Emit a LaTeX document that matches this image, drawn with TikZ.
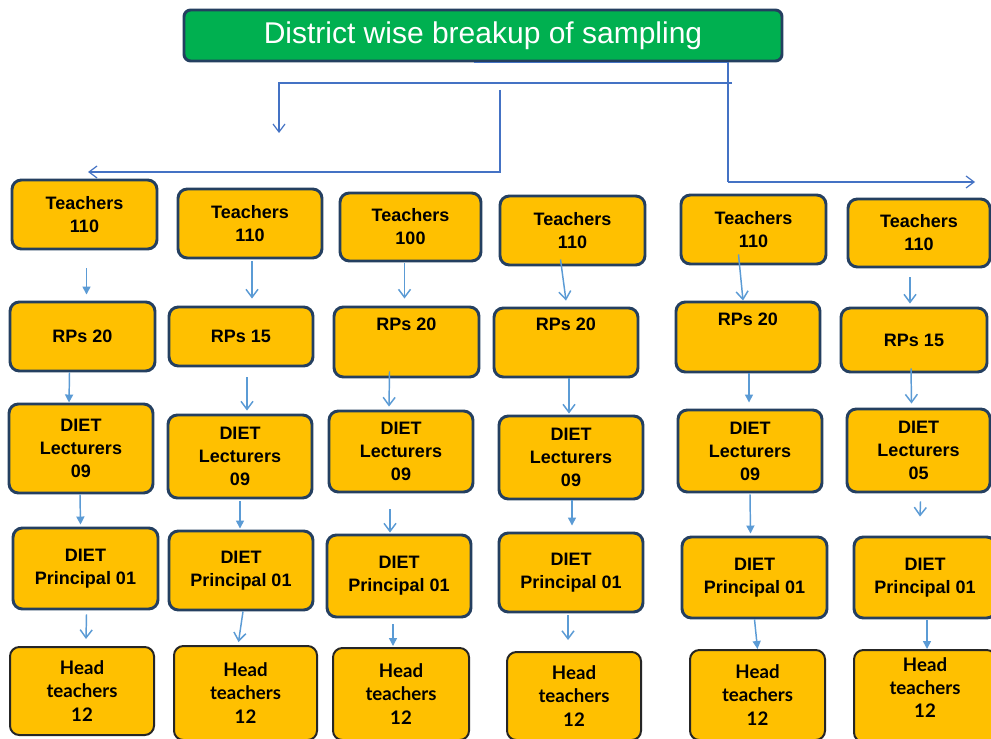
\documentclass[tikz,border=0pt]{standalone}
\usepackage{fontspec}
\setmainfont{Liberation Sans}
\newfontfamily\headfont{Lato}
\usepackage{xcolor}
\usepackage{tikz}
\usetikzlibrary{arrows.meta, calc}
\definecolor{TitleGreen}{HTML}{00B050}
\definecolor{BoxOrange}{HTML}{FFC000}
\definecolor{BoxEdge}{HTML}{243F60}
\definecolor{FeedBlue}{HTML}{4472C4}
\definecolor{ArrBlue}{HTML}{5B9BD5}

\begin{document}
\begin{tikzpicture}[x=0.75pt, y=-0.75pt,
    cell/.style 2 args={minimum width=#1*0.75pt, minimum height=#2*0.75pt},
    box/.style={rounded corners=7pt, fill=BoxOrange, draw=BoxEdge, line width=2.2pt, inner sep=0pt, align=center, font=\bfseries\fontsize{13.5}{17.3}\selectfont},
    headbox/.style={box, draw=black!85, line width=1.5pt, font=\headfont\bfseries\fontsize{14}{17.3}\selectfont},
    titlebox/.style={rounded corners=5pt, fill=TitleGreen, draw=BoxEdge, line width=2.2pt, inner sep=0pt, text=white, font=\fontsize{22.5}{26}\selectfont},
    feed/.style={draw=FeedBlue, line width=0.9pt},
    tipo/.style={draw=ArrBlue, line width=1.1pt, -{Straight Barb[length=6pt,width=9pt]}},
    tipf/.style={draw=ArrBlue, line width=1.1pt, -{Triangle[length=6pt,width=6pt]}}]

\path[use as bounding box, fill=white] (0,0) rectangle (991,738);
\clip (0,0) rectangle (991,738);

% --- TITLE ---
\node[titlebox, cell={598}{51}] (title) at (483,35.5) {District wise breakup of sampling};

% --- FEED LINES (TOP) ---
\coordinate (k1) at (728,182);
\coordinate (k2) at (975,182);
\coordinate (k3) at (732,83);
\coordinate (k4) at (279,133);
\coordinate (k5) at (500,90);
\coordinate (k6) at (88,172);
\draw[feed] ([xshift=-7pt]title.south) -| (k1);
\draw[feed, -{Straight Barb[length=6pt,width=9pt]}] (k1) -- (k2);
\draw[feed, -{Straight Barb[length=6pt,width=9pt]}] (k3) -| (k4);
\draw[feed, -{Straight Barb[length=6pt,width=9pt]}] (k5) |- (k6);

% --- ROW 1: TEACHERS ---
\node[box, cell={145}{69}] (t1) at (84.5,214.5) {Teachers\\110};
\node[box, cell={144}{69}] (t2) at (250,223.5) {Teachers\\110};
\node[box, cell={141}{68}] (t3) at (410.5,227) {Teachers\\100};
\node[box, cell={145}{69}] (t4) at (572.5,230.5) {Teachers\\110};
\node[box, cell={145}{69}] (t5) at (753.5,229.5) {Teachers\\110};
\node[box, cell={142}{68}] (t6) at (919,233) {Teachers\\110};

% --- ROW 2: RPs ---
\node[box, cell={145}{69}] (r1) at (82.5,336.5) {RPs 20};
\node[box, cell={144}{59}] (r2) at (241,336.5) {RPs 15};
\node[box, cell={145}{70}] (r3) at (406.5,342) {RPs 20\\[10pt]~};
\node[box, cell={144}{69}] (r4) at (566,342.5) {RPs 20\\[10pt]~};
\node[box, cell={144}{70}] (r5) at (748,337) {RPs 20\\[10pt]~};
\node[box, cell={146}{64}] (r6) at (914,340) {RPs 15};

% --- ROW 3: DIET LECTURERS ---
\node[box, cell={144}{89}] (l1) at (81,448.5) {DIET\\Lecturers\\09};
\node[box, cell={144}{83}] (l2) at (240,456.5) {DIET\\Lecturers\\09};
\node[box, cell={144}{81}] (l3) at (401,451.5) {DIET\\Lecturers\\09};
\node[box, cell={144}{83}] (l4) at (571,457.5) {DIET\\Lecturers\\09};
\node[box, cell={144}{82}] (l5) at (750,451) {DIET\\Lecturers\\09};
\node[box, cell={143}{83}] (l6) at (918.5,450.5) {DIET\\Lecturers\\05};

% --- ROW 4: DIET PRINCIPAL ---
\node[box, cell={145}{81}] (p1) at (85.5,568.5) {DIET\\Principal 01};
\node[box, cell={144}{79}] (p2) at (241,570.5) {DIET\\Principal 01};
\node[box, cell={144}{82}] (p3) at (399,576) {DIET\\Principal 01};
\node[box, cell={144}{79}] (p4) at (571,572.5) {DIET\\Principal 01};
\node[box, cell={145}{81}] (p5) at (754.5,577.5) {DIET\\Principal 01};
\node[box, cell={142}{81}] (p6) at (925,577.5) {DIET\\Principal 01};

% --- ROW 5: HEAD TEACHERS ---
\node[headbox, cell={144}{88}] (h1) at (82,691) {Head\\teachers\\12};
\node[headbox, cell={143}{94}] (h2) at (245.5,693) {Head\\teachers\\12};
\node[headbox, cell={136}{92}] (h3) at (401,694) {Head\\teachers\\12};
\node[headbox, cell={134}{88}] (h4) at (574,696) {Head\\teachers\\12};
\node[headbox, cell={135}{90}] (h5) at (757.5,695) {Head\\teachers\\12};
\node[headbox, cell={142}{92}] (h6) at (925,696) {Head\\teachers\\12\\[-4pt]~};

% --- ARROWS: TEACHERS TO RPs ---
\draw[tipf] ($(t1.south)+(2,18)$) -- ($(r1.north)+(4,-6)$);
\draw[tipo] ($(t2.south)+(2,2)$) -- ($(r2.north)+(11,-7)$);
\draw[tipo] ($(t3.south)+(-6,1)$) -- ($(r3.north)+(-2,-7)$);
\draw[tipo] ($(t4.south)+(-12,-7)$) -- ($(r4.north)+(0,-6)$);
\draw[tipo] ($(t5.south)+(-15,-11)$) -- ($(r5.north)+(-5,0)$);
\draw[tipo] ($(t6.south)+(-9,9)$) -- ($(r6.north)+(-4,-3)$);

% --- ARROWS: RPs TO LECTURERS ---
\draw[tipf] ($(r1.south)+(-13,0)$) -- ($(l1.north)+(-12,0)$);
\draw[tipo] ($(r2.south)+(6,10)$) -- ($(l2.north)+(7,-3)$);
\draw[tipo] ($(r3.south)+(-17,-7)$) -- ($(l3.north)+(-12,-3)$);
\draw[tipo] ($(r4.south)+(3,0)$) -- ($(l4.north)+(-2,-1)$);
\draw[tipf] ($(r5.south)+(1,0)$) -- ($(l5.north)+(-1,-6)$);
\draw[tipo] ($(r6.south)+(-3,-5)$) -- ($(l6.north)+(-7,-4)$);

% --- ARROWS: LECTURERS TO PRINCIPAL ---
\draw[tipf] ($(l1.south)+(-1,0)$) -- ($(p1.north)+(-5,-2)$);
\draw[tipf] ($(l2.south)+(0,2)$) -- ($(p2.north)+(-1,-1)$);
\draw[tipo] ($(l3.south)+(-11,16)$) -- ($(p3.north)+(-9,-1)$);
\draw[tipf] ($(l4.south)+(1,0)$) -- ($(p4.north)+(1,-6)$);
\draw[tipf] ($(l5.south)+(0,1)$) -- ($(p5.north)+(-4,-2)$);
\draw[tipo] ($(l6.south)+(2,8)$) -- ($(p6.north)+(-5,-19)$);

% --- ARROWS: PRINCIPAL TO HEAD TEACHERS ---
\draw[tipo] ($(p1.south)+(1,4)$) -- ($(h1.north)+(4,-7)$);
\draw[tipo] ($(p2.south)+(2,0)$) -- ($(h2.north)+(-7,-3)$);
\draw[tipf] ($(p3.south)+(-6,6)$) -- ($(h3.north)+(-8,-1)$);
\draw[tipo] ($(p4.south)+(-3,2)$) -- ($(h4.north)+(-6,-11)$);
\draw[tipf] ($(p5.south)+(0,0)$) -- ($(h5.north)+(0,0)$);
\draw[tipf] ($(p6.south)+(2,1)$) -- ($(h6.north)+(2,0)$);

\end{tikzpicture}
\end{document}
